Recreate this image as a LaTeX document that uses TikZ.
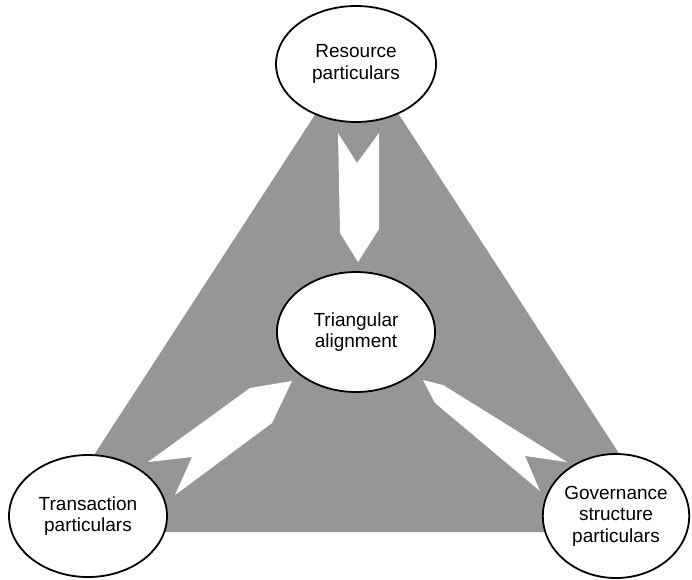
\documentclass[tikz,border=0pt]{standalone}
\usepackage{fontspec}
\setmainfont{Liberation Sans}
\usetikzlibrary{shapes.geometric}
\definecolor{trifill}{RGB}{150,150,150}
\begin{document}
\begin{tikzpicture}[x=1pt,y=-1pt,
  bubble/.style={ellipse, draw=black, line width=1.8pt, fill=white,
    inner sep=0pt, align=center, font=\fontsize{19}{21.5}\selectfont},
  flow/.style={fill=white, draw=none}]
\useasboundingbox (0,0) rectangle (692,579);

% shaded triangle behind everything
\fill[trifill] (357,50) -- (44,532) -- (670,532) -- cycle;

% white notched arrows
\coordinate (ta1) at (338,133);
\fill[flow] (ta1) -- (357,163) -- (379,133) -- (379,229) -- (358,262)
  -- (340,233) -- cycle;
\fill[flow] (292,381) -- (250,388) -- (148,462) -- (192,457) -- (175,495)
  -- (272,423) -- cycle;
\fill[flow] (423,380) -- (443,385) -- (567,462) -- (525,456) -- (540,491)
  -- (435,403) -- cycle;

% ellipses
\node[bubble, minimum width=160pt, minimum height=116pt] (res) at (356,64)
  {Resource\\particulars};
\node[bubble, minimum width=158pt, minimum height=120pt] (tri) at (356,332)
  {Triangular\\alignment};
\node[bubble, minimum width=158pt, minimum height=122pt] (tra) at (88,516)
  {Transaction\\particulars};
\node[bubble, minimum width=146pt, minimum height=124pt] (gov) at (616,516)
  {Governance\\structure\\particulars};
\end{tikzpicture}
\end{document}
